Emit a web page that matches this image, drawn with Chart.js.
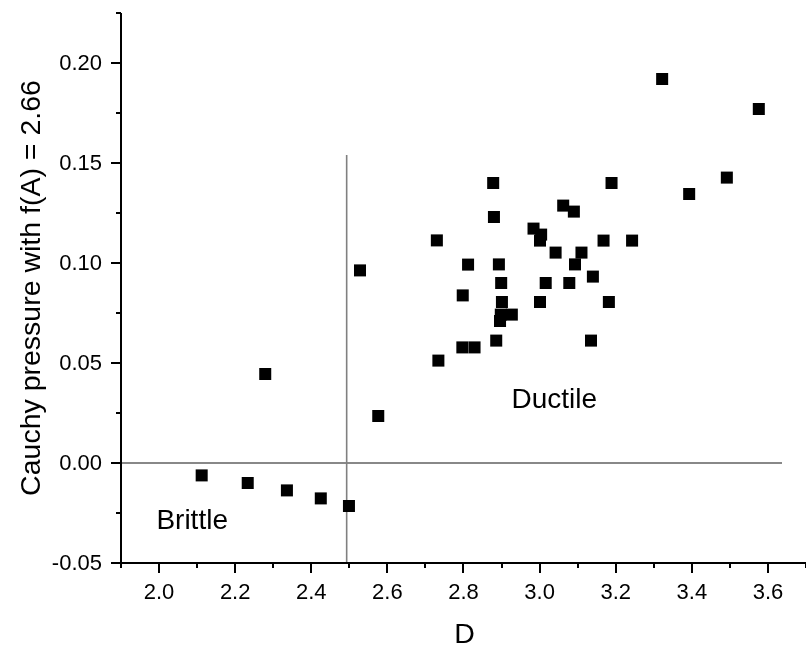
<!DOCTYPE html>
<html>
<head>
<meta charset="utf-8">
<script src="https://cdn.jsdelivr.net/npm/chart.js@4/dist/chart.umd.min.js"></script>
<style>
  html, body { margin: 0; padding: 0; background: #fff; }
  #wrap { width: 806px; height: 648px; }
</style>
</head>
<body>
<div id="wrap"><canvas id="cauchyChart" width="806" height="648"></canvas></div>
<script>
// D values and Cauchy pressure for each compound
const dValues = [
  2.112, 2.233, 2.336, 2.425, 2.499, 2.279, 2.576, 2.528, 2.730, 2.734,
  2.797, 2.829, 2.798, 2.812, 2.878, 2.880, 2.893, 2.899, 2.901, 2.898,
  2.927, 2.896, 2.886, 2.984, 3.004, 3.001, 3.016, 3.001, 3.042, 3.062,
  3.090, 3.093, 3.078, 3.110, 3.140, 3.135, 3.168, 3.182, 3.189, 3.243,
  3.322, 3.393, 3.492, 3.576
];
const pressureValues = [
  -0.0062, -0.0100, -0.0137, -0.0177, -0.0215, 0.0445, 0.0235, 0.0963, 0.1113, 0.0512,
  0.0578, 0.0578, 0.0838, 0.0992, 0.1400, 0.1230, 0.0993, 0.0900, 0.0805, 0.0742,
  0.0742, 0.0710, 0.0612, 0.1172, 0.1142, 0.1112, 0.0900, 0.0805, 0.1052, 0.1287,
  0.1257, 0.0993, 0.0900, 0.1052, 0.0932, 0.0612, 0.1112, 0.0805, 0.1400, 0.1112,
  0.1920, 0.1345, 0.1427, 0.1770
];

// brittle / ductile boundary lines
const boundaryX = [2.493, 2.493];
const boundaryY = [-0.05, 0.154];
const zeroX = [1.9, 3.637];
const zeroY = [0, 0];

// axis ranges and ticks
const xRange = [1.9, 3.7];
const yRange = [-0.05, 0.225];
const xMajorTicks = [2.0, 2.2, 2.4, 2.6, 2.8, 3.0, 3.2, 3.4, 3.6];
const xMinorTicks = [1.9, 2.1, 2.3, 2.5, 2.7, 2.9, 3.1, 3.3, 3.5, 3.7];
const yMajorTicks = [-0.05, 0.00, 0.05, 0.10, 0.15, 0.20];
const yMinorTicks = [-0.025, 0.025, 0.075, 0.125, 0.175, 0.225];

// region labels (x, y of text baseline start)
const regionLabels = ['Brittle', 'Ductile'];
const regionX = [1.993, 2.926];
const regionY = [-0.033, 0.0275];

const xTitle = 'D';
const yTitle = 'Cauchy pressure with f(A) = 2.66';

const FONT = '"Liberation Sans", Arial, sans-serif';

function toPoints(xs, ys) {
  return xs.map((x, i) => ({ x: x, y: ys[i] }));
}

// axes, ticks and texts are drawn by hand so the tick lengths can differ
const originAxes = {
  id: 'originAxes',
  afterDraw(chart) {
    const ctx = chart.ctx;
    const xs = chart.scales.x;
    const ys = chart.scales.y;
    const left = xs.getPixelForValue(xRange[0]);
    const right = chart.width;
    const bottom = ys.getPixelForValue(yRange[0]);
    const top = ys.getPixelForValue(yRange[1]);

    ctx.save();
    ctx.strokeStyle = '#000';
    ctx.lineWidth = 2;
    ctx.beginPath();
    ctx.moveTo(left, top);
    ctx.lineTo(left, bottom + 5);
    ctx.moveTo(left, bottom);
    ctx.lineTo(right, bottom);
    ctx.stroke();

    ctx.beginPath();
    xMajorTicks.forEach(v => {
      const px = Math.round(xs.getPixelForValue(v));
      ctx.moveTo(px, bottom);
      ctx.lineTo(px, bottom + 10);
    });
    xMinorTicks.forEach(v => {
      const px = Math.round(xs.getPixelForValue(v));
      ctx.moveTo(px, bottom);
      ctx.lineTo(px, bottom + 5);
    });
    yMajorTicks.forEach(v => {
      const py = Math.round(ys.getPixelForValue(v));
      ctx.moveTo(left, py);
      ctx.lineTo(left - 10, py);
    });
    yMinorTicks.forEach(v => {
      const py = Math.round(ys.getPixelForValue(v));
      ctx.moveTo(left, py);
      ctx.lineTo(left - 5, py);
    });
    ctx.stroke();

    ctx.fillStyle = '#000';
    ctx.font = '22px ' + FONT;
    ctx.textAlign = 'center';
    ctx.textBaseline = 'alphabetic';
    xMajorTicks.forEach(v => {
      ctx.fillText(v.toFixed(1), xs.getPixelForValue(v), bottom + 36);
    });
    ctx.textAlign = 'right';
    ctx.textBaseline = 'middle';
    yMajorTicks.forEach(v => {
      ctx.fillText(v.toFixed(2), left - 19, ys.getPixelForValue(v) + 1);
    });

    // axis titles
    ctx.font = '28.5px ' + FONT;
    ctx.textAlign = 'center';
    ctx.textBaseline = 'alphabetic';
    ctx.fillText(xTitle, (left + right) / 2 + 1, 643);

    ctx.save();
    ctx.translate(40, (top + bottom) / 2);
    ctx.rotate(-Math.PI / 2);
    ctx.fillText(yTitle, 0, 0);
    ctx.restore();

    // region labels
    ctx.font = '28px ' + FONT;
    ctx.textAlign = 'left';
    regionLabels.forEach((t, i) => {
      ctx.fillText(t, xs.getPixelForValue(regionX[i]), ys.getPixelForValue(regionY[i]));
    });
    ctx.restore();
  }
};

new Chart(document.getElementById('cauchyChart'), {
  type: 'scatter',
  data: {
    datasets: [{
      label: 'Cauchy pressure',
      data: toPoints(dValues, pressureValues),
      pointStyle: 'rect',
      pointRadius: 8.5,
      pointHoverRadius: 8.5,
      backgroundColor: '#000',
      borderWidth: 0,
      order: 0
    }, {
      label: 'boundary',
      data: toPoints(boundaryX, boundaryY),
      showLine: true,
      pointRadius: 0,
      borderColor: '#808080',
      borderWidth: 1.6,
      order: 1
    }, {
      label: 'zero',
      data: toPoints(zeroX, zeroY),
      showLine: true,
      pointRadius: 0,
      borderColor: '#606060',
      borderWidth: 1.3,
      order: 1
    }]
  },
  options: {
    responsive: false,
    devicePixelRatio: 1,
    animation: false,
    layout: { autoPadding: false, padding: { left: 121, top: 13, right: 0, bottom: 85 } },
    plugins: { legend: { display: false }, tooltip: { enabled: false } },
    scales: {
      x: { type: 'linear', min: xRange[0], max: xRange[1], display: false },
      y: { type: 'linear', min: yRange[0], max: yRange[1], display: false }
    }
  },
  plugins: [originAxes]
});
</script>
</body>
</html>
